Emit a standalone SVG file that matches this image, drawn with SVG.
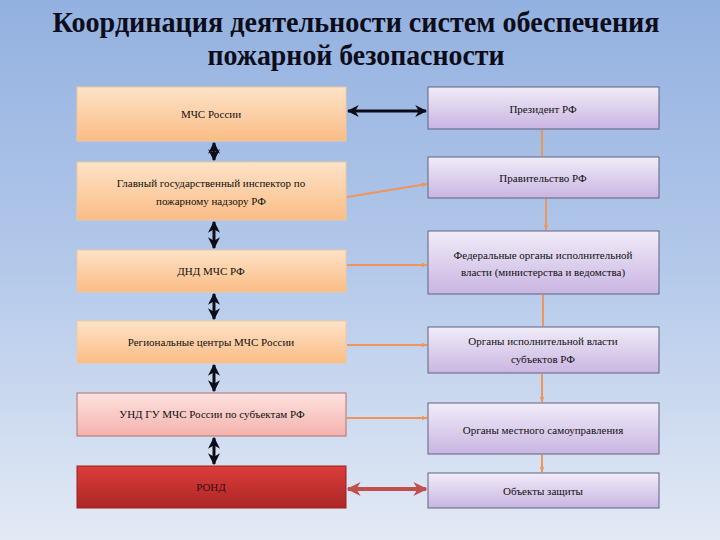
<svg xmlns="http://www.w3.org/2000/svg" width="720" height="540" viewBox="0 0 720 540">
<defs>
<linearGradient id="bg" x1="0" y1="0" x2="0" y2="1">
<stop offset="0" stop-color="#93b1e0"/>
<stop offset="0.5" stop-color="#b4c9ea"/>
<stop offset="1" stop-color="#e3eaf5"/>
</linearGradient>
<linearGradient id="gOr" x1="0" y1="0" x2="0" y2="1">
<stop offset="0" stop-color="#fde3c8"/>
<stop offset="1" stop-color="#fbbc85"/>
</linearGradient>
<linearGradient id="gPk" x1="0" y1="0" x2="0" y2="1">
<stop offset="0" stop-color="#fde2e0"/>
<stop offset="1" stop-color="#f4b2ad"/>
</linearGradient>
<linearGradient id="gRd" x1="0" y1="0" x2="0" y2="1">
<stop offset="0" stop-color="#dd3d3a"/>
<stop offset="1" stop-color="#ab2626"/>
</linearGradient>
<linearGradient id="gLv" x1="0" y1="0" x2="0" y2="1">
<stop offset="0" stop-color="#f1ecf8"/>
<stop offset="1" stop-color="#c9b5e2"/>
</linearGradient>
<marker id="ab" viewBox="0 0 10 10" refX="9" refY="5" markerWidth="4" markerHeight="4" orient="auto-start-reverse" markerUnits="strokeWidth">
<path d="M0,0 L10,5 L0,10 L3,5 Z" fill="#0d0d1a"/>
</marker>
<marker id="ar" viewBox="0 0 10 10" refX="9" refY="5" markerWidth="3.5" markerHeight="3.5" orient="auto-start-reverse" markerUnits="strokeWidth">
<path d="M0,0 L10,5 L0,10 L3,5 Z" fill="#c0504d"/>
</marker>
<marker id="ao" viewBox="0 0 10 10" refX="9" refY="5" markerWidth="3" markerHeight="3" orient="auto-start-reverse" markerUnits="strokeWidth">
<path d="M0,1 L10,5 L0,9 Z" fill="#f0955a"/>
</marker>
</defs>
<style>
.lo{fill:url(#gOr);stroke:#f2c79c;stroke-width:1}
.lp{fill:url(#gPk);stroke:#b07070;stroke-width:1}
.lr{fill:url(#gRd);stroke:#9a2020;stroke-width:1}
.rv{fill:url(#gLv);stroke:#5f6280;stroke-width:1}
.cb{stroke:#0d0d1a;stroke-width:3;fill:none;marker-start:url(#ab);marker-end:url(#ab)}
.cr{stroke:#c0504d;stroke-width:4;fill:none;marker-start:url(#ar);marker-end:url(#ar)}
.co{stroke:#f0955a;stroke-width:2;fill:none;marker-end:url(#ao)}
</style>
<rect width="720" height="540" fill="url(#bg)"/>
<g id="title" font-family="Liberation Serif" font-weight="bold" font-size="30" fill="#0d0d1a" text-anchor="middle">
<text x="356" y="32" textLength="607" lengthAdjust="spacingAndGlyphs">Координация деятельности систем обеспечения</text>
<text x="356" y="65" textLength="297" lengthAdjust="spacingAndGlyphs">пожарной безопасности</text>
</g>
<g id="connectors">
<line class="cb" x1="348" y1="111" x2="426" y2="111"/>
<line class="cb" x1="214" y1="143" x2="214" y2="160"/>
<line class="cb" x1="214" y1="222" x2="214" y2="248"/>
<line class="cb" x1="214" y1="294" x2="214" y2="319"/>
<line class="cb" x1="214" y1="365" x2="214" y2="391"/>
<line class="cb" x1="214" y1="438" x2="214" y2="464"/>
<line class="cr" x1="348" y1="489" x2="426" y2="489"/>
<line class="co" x1="347" y1="197" x2="427" y2="184"/>
<line class="co" x1="347" y1="265" x2="427" y2="265"/>
<line class="co" x1="347" y1="345" x2="427" y2="345"/>
<line class="co" x1="347" y1="418" x2="427" y2="418"/>
<line class="co" x1="542" y1="156" x2="542" y2="130" style="marker-end:none"/>
<line class="co" x1="546" y1="199" x2="546" y2="230"/>
<line class="co" x1="543" y1="295" x2="543" y2="326" style="marker-end:none"/>
<line class="co" x1="542" y1="374" x2="542" y2="402"/>
<line class="co" x1="542" y1="455" x2="542" y2="472"/>
</g>
<g font-family="Liberation Serif" font-size="11" fill="#111" text-anchor="middle">
<g id="mchs"><rect class="lo" x="77" y="87" width="269" height="54"/><text x="211" y="118">МЧС России</text></g>
<g id="inspector"><rect class="lo" x="77" y="162" width="269" height="58"/><text x="211" y="187">Главный государственный инспектор по</text><text x="211" y="205">пожарному надзору РФ</text></g>
<g id="dnd"><rect class="lo" x="77" y="250" width="269" height="42"/><text x="211" y="275">ДНД МЧС РФ</text></g>
<g id="regional"><rect class="lo" x="77" y="321" width="269" height="42"/><text x="211" y="346">Региональные центры МЧС России</text></g>
<g id="und"><rect class="lp" x="77" y="393" width="269" height="43"/><text x="212" y="418">УНД ГУ МЧС России по субъектам РФ</text></g>
<g id="rond"><rect class="lr" x="77" y="466" width="269" height="42"/><text x="211" y="491" fill="#3a0c0c">РОНД</text></g>
<g id="president"><rect class="rv" x="428" y="87" width="231" height="42"/><text x="543" y="113">Президент РФ</text></g>
<g id="government"><rect class="rv" x="428" y="157" width="231" height="41"/><text x="543" y="182">Правительство РФ</text></g>
<g id="federal"><rect class="rv" x="428" y="231" width="231" height="63"/><text x="543" y="259">Федеральные органы исполнительной</text><text x="543" y="276">власти (министерства и ведомства)</text></g>
<g id="subjects"><rect class="rv" x="428" y="327" width="231" height="46"/><text x="543" y="345">Органы исполнительной власти</text><text x="543" y="363">субъектов РФ</text></g>
<g id="local"><rect class="rv" x="428" y="403" width="231" height="51"/><text x="543" y="434">Органы местного самоуправления</text></g>
<g id="objects"><rect class="rv" x="428" y="473" width="231" height="35"/><text x="543" y="495">Объекты защиты</text></g>
</g>
</svg>
